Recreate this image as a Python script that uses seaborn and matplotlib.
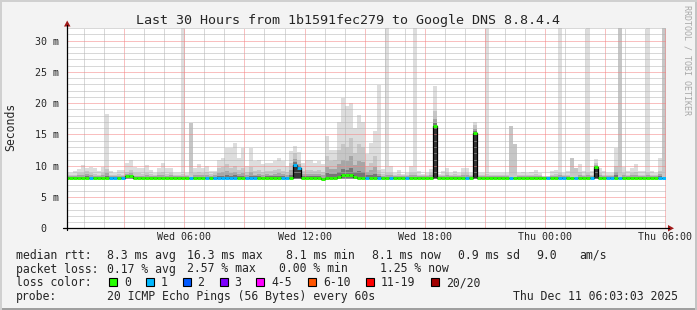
import numpy as np
import pandas as pd
import matplotlib
matplotlib.use("Agg")
import matplotlib.pyplot as plt
from matplotlib.patches import Rectangle, Polygon
from matplotlib.lines import Line2D
from matplotlib.ticker import FixedLocator, MultipleLocator
import seaborn as sns

# ---------------- data ----------------
title = "Last 30 Hours from 1b1591fec279 to Google DNS 8.8.4.4"
bin_start_hour = 0.03   # left edge of first 12-min RRD step, hours after Wed 00:00
bin_step_hour = 0.2     # 12 minutes
smoke_floor_ms = 7.95

# upper edge of light smoke (ms)
smoke_hi = [
    8.9, 8.9, 9.2, 9.5, 10.1, 9.7, 9.8, 9.6, 9.2, 9.8,
    18.3, 9.2, 8.9, 9.3, 9.3, 10.4, 11.0, 9.8, 9.7, 9.7,
    10.1, 9.4, 8.9, 9.7, 10.5, 9.7, 9.7, 8.9, 8.9, 32.0,
    8.9, 16.9, 9.7, 10.3, 9.7, 10.0, 9.2, 9.2, 11.0, 11.3,
    12.9, 12.9, 13.7, 11.3, 12.9, 10.0, 12.9, 10.8, 11.0, 10.3,
    10.5, 10.5, 10.8, 11.3, 10.8, 10.0, 12.4, 13.2, 12.2, 10.5,
    10.9, 10.9, 10.5, 10.8, 10.3, 14.8, 12.5, 12.5, 17.0, 20.8,
    19.5, 20.0, 16.1, 18.1, 17.0, 11.9, 13.6, 15.5, 22.9, 9.5,
    32.0, 10.0, 8.8, 9.4, 8.7, 8.9, 10.0, 32.0, 9.2, 8.7,
    8.9, 9.5, 22.7, 8.7, 9.2, 9.7, 8.9, 9.2, 8.9, 9.7,
    9.7, 8.9, 17.0, 8.9, 8.9, 32.0, 8.9, 8.8, 8.9, 8.8,
    8.9, 16.3, 13.5, 8.9, 9.0, 8.9, 9.0, 9.3, 8.9, 8.4,
    8.4, 9.1, 9.3, 32.0, 8.9, 9.2, 11.3, 9.6, 10.3, 9.1,
    32.0, 9.2, 11.1, 9.6, 9.2, 8.9, 8.9, 12.9, 32.0, 9.8,
    9.2, 9.6, 10.3, 9.1, 9.2, 32.0, 9.2, 8.9, 11.3, 32.0,
]

# upper edge of the denser (medium grey) smoke (ms)
smoke_mid = [
    8.5, 8.5, 8.6, 8.8, 8.9, 9.2, 8.9, 8.7, 8.6, 8.8,
    9.5, 8.6, 8.5, 8.7, 8.6, 9.0, 9.3, 8.8, 8.8, 8.7,
    8.9, 8.7, 8.5, 8.8, 9.0, 8.7, 8.8, 8.5, 8.5, 8.7,
    8.5, 16.9, 8.9, 9.0, 8.8, 9.0, 8.7, 8.8, 9.6, 9.8,
    10.3, 9.6, 10.0, 9.3, 9.6, 9.0, 9.8, 9.1, 9.4, 9.0,
    9.2, 9.1, 9.3, 9.5, 9.2, 9.0, 10.5, 12.0, 11.0, 9.2,
    9.4, 9.3, 9.2, 9.4, 9.0, 11.5, 10.8, 11.0, 12.5, 13.5,
    13.0, 14.5, 12.0, 13.5, 13.0, 10.0, 10.5, 11.5, 9.3, 8.7,
    8.9, 8.9, 8.5, 8.7, 8.5, 8.6, 8.9, 8.8, 8.6, 8.5,
    8.6, 8.8, 18.7, 8.5, 8.6, 8.8, 8.6, 8.7, 8.5, 8.8,
    8.8, 8.6, 16.5, 8.5, 8.5, 8.7, 8.5, 8.5, 8.6, 8.5,
    8.6, 16.3, 13.5, 8.5, 8.6, 8.5, 8.6, 8.7, 8.5, 8.3,
    8.3, 8.6, 8.7, 8.8, 8.5, 8.6, 11.3, 9.6, 9.0, 8.6,
    8.8, 8.6, 10.5, 8.8, 8.6, 8.5, 8.5, 10.0, 32.0, 8.9,
    8.6, 8.8, 9.0, 8.6, 8.6, 8.8, 8.6, 8.5, 9.2, 32.0,
]

# median round-trip time per step (ms)
median_ms = [
    8.1, 8.1, 8.1, 8.1, 8.1, 8.1, 8.1, 8.1, 8.1, 8.1,
    8.1, 8.1, 8.1, 8.1, 8.1, 8.3, 8.3, 8.0, 8.0, 8.1,
    8.1, 8.1, 8.1, 8.1, 8.1, 8.1, 8.1, 8.1, 8.1, 8.1,
    8.1, 8.1, 8.1, 8.1, 8.1, 8.1, 8.1, 8.1, 8.1, 8.1,
    8.1, 8.1, 8.1, 8.1, 8.1, 8.1, 8.1, 8.1, 8.1, 8.1,
    8.1, 8.1, 8.1, 8.1, 8.1, 8.1, 8.1, 10.2, 9.7, 8.1,
    8.1, 8.1, 8.1, 8.1, 7.9, 8.1, 8.1, 8.1, 8.2, 8.5,
    8.5, 8.5, 8.2, 8.1, 8.1, 8.1, 8.0, 8.0, 8.1, 8.1,
    8.1, 8.1, 8.1, 8.1, 8.1, 8.1, 8.1, 8.1, 8.1, 8.1,
    8.1, 8.1, 16.3, 8.1, 8.1, 8.1, 8.1, 8.1, 8.1, 8.1,
    8.1, 8.1, 15.3, 8.1, 8.1, 8.1, 8.1, 8.1, 8.1, 8.1,
    8.1, 8.1, 8.1, 8.1, 8.1, 8.1, 8.1, 8.1, 8.1, 8.1,
    8.1, 8.1, 8.1, 8.1, 8.1, 8.1, 8.1, 8.1, 8.1, 8.1,
    8.1, 8.1, 9.8, 8.1, 8.1, 8.1, 8.1, 8.1, 8.1, 8.1,
    8.1, 8.1, 8.1, 8.1, 8.1, 8.1, 8.1, 8.1, 8.1, 8.1,
]

# lost pings per step (of 20)
loss_count = [
    0, 0, 0, 0, 0, 0, 1, 0, 0, 0,
    0, 1, 1, 0, 1, 0, 0, 0, 0, 0,
    0, 0, 0, 0, 0, 0, 0, 0, 0, 0,
    0, 1, 0, 0, 0, 1, 0, 1, 1, 1,
    1, 1, 1, 0, 0, 1, 1, 1, 0, 0,
    0, 0, 0, 0, 1, 1, 0, 1, 1, 0,
    0, 0, 0, 0, 0, 0, 0, 0, 0, 0,
    0, 0, 0, 0, 0, 1, 0, 0, 1, 0,
    0, 1, 0, 0, 0, 1, 0, 0, 0, 0,
    0, 0, 0, 0, 0, 0, 0, 0, 0, 0,
    1, 0, 0, 0, 0, 0, 0, 0, 0, 0,
    0, 1, 0, 0, 0, 0, 0, 0, 0, 0,
    1, 0, 0, 1, 1, 0, 0, 1, 0, 0,
    0, 1, 0, 0, 0, 1, 1, 0, 1, 0,
    0, 0, 0, 0, 0, 0, 0, 0, 1, 1,
]

x_tick_hours = [6, 12, 18, 24, 30]
x_tick_labels = ["Wed 06:00", "Wed 12:00", "Wed 18:00", "Thu 00:00", "Thu 06:00"]
y_tick_values = [0, 5, 10, 15, 20, 25, 30]
y_tick_labels = ["0  ", "5 m", "10 m", "15 m", "20 m", "25 m", "30 m"]

loss_labels = ["0", "1", "2", "3", "4-5", "6-10", "11-19", "20/20"]
loss_colors = ["#26ff00", "#00b8ff", "#0059ff", "#7e00ff", "#ff00ff", "#ff5500", "#ff0000", "#a10000"]

stats_rtt = ["8.3 ms avg", "16.3 ms max", "8.1 ms min", "8.1 ms now", "0.9 ms sd", "9.0", "am/s"]
stats_loss = ["0.17 % avg", "2.57 % max", "0.00 % min", "1.25 % now"]
probe_text = "20 ICMP Echo Pings (56 Bytes) every 60s"
stamp_text = "Thu Dec 11 06:03:03 2025"

# ---------------- figure ----------------
W, H = 697, 310
sns.set_style("white")
plt.rcParams["font.family"] = ["DejaVu Sans Mono"]
MONO = "DejaVu Sans Mono"

fig = plt.figure(figsize=(W / 100, H / 100), dpi=100)
fig.patch.set_facecolor("#f3f3f3")


def fx(x):
    return x / W


def fy(y):
    return 1 - y / H


ax = fig.add_axes([fx(67), fy(228.3), 599 / W, 200.3 / H])
ax.set_facecolor("white")
ax.set_xlim(0.14, 30.045)
ax.set_ylim(0, 32.03)

n = len(median_ms)
df = pd.DataFrame({
    "left": bin_start_hour + bin_step_hour * np.arange(n),
    "hi": smoke_hi,
    "mid": smoke_mid,
    "median": median_ms,
    "loss": loss_count,
})
df["center"] = df["left"] + bin_step_hour / 2
df["right"] = df["left"] + bin_step_hour
# inner smoke layers only where the medium smoke is below the light smoke top
spread = (df["mid"] - df["median"]).clip(lower=0).where(df["mid"] < df["hi"], 0.0)
df["inner"] = df["median"] + 0.5 * spread
df["core"] = df["median"] + 0.2 * spread

for col, color in [("hi", "#dddddd"), ("mid", "#c6c6c6"), ("inner", "#a6a6a6"), ("core", "#767676")]:
    ax.bar(df["center"], df[col] - smoke_floor_ms, bottom=smoke_floor_ms,
           width=bin_step_hour, color=color, linewidth=0, zorder=1)

jump = df[df["median"] > 9.5]
ax.bar(jump["center"], jump["median"] - smoke_floor_ms, bottom=smoke_floor_ms,
       width=bin_step_hour, color="#363636", linewidth=0, zorder=1.2)

# black step outline of the median
step_x = list(df["left"]) + [df["right"].iloc[-1]]
step_y = list(df["median"]) + [df["median"].iloc[-1]]
sns.lineplot(x=step_x, y=step_y, drawstyle="steps-post", color="black",
             linewidth=0.9, estimator=None, sort=False, ax=ax, zorder=2)

# median coloured by loss
seg_colors = [loss_colors[min(int(l), 7)] for l in df["loss"]]
ax.hlines(df["median"], df["left"], df["right"], colors=seg_colors,
          linewidth=2.1, zorder=3)

# grid
ax.xaxis.set_major_locator(MultipleLocator(3))
ax.xaxis.set_minor_locator(MultipleLocator(1))
ax.yaxis.set_major_locator(FixedLocator(y_tick_values))
ax.yaxis.set_minor_locator(MultipleLocator(1))
ax.set_axisbelow("line")
ax.grid(which="major", color=(0.96, 0.5, 0.5, 0.8), linestyle=(0, (1, 1)), linewidth=0.72)
ax.grid(which="minor", color=(0.7, 0.7, 0.7, 0.8), linestyle=(0, (1, 1)), linewidth=0.72)

major_x = [3 * i for i in range(1, 11)]
label_map = dict(zip(x_tick_hours, x_tick_labels))
ax.set_xticks(major_x)
ax.set_xticklabels([label_map.get(h, "") for h in major_x], fontsize=7.2, family=MONO)
ax.set_yticks(y_tick_values)
ax.set_yticklabels(y_tick_labels, fontsize=7.2, family=MONO)
ax.tick_params(axis="both", which="both", length=0)
ax.tick_params(axis="x", pad=3.0)
ax.tick_params(axis="y", pad=5.8)
ax.set_xlabel("")
ax.set_ylabel("")
for s in ax.spines.values():
    s.set_visible(False)

# axis lines and arrows
fig.add_artist(Line2D([fx(67), fx(67)], [fy(230), fy(25)], color="black", linewidth=0.9))
fig.add_artist(Line2D([fx(63), fx(669)], [fy(228.3), fy(228.3)], color="black", linewidth=0.9))
fig.add_artist(Polygon([(fx(64), fy(26.5)), (fx(70.5), fy(26.5)), (fx(67.2), fy(20.5))],
                       closed=True, color="#a01818", linewidth=0))
fig.add_artist(Polygon([(fx(668), fy(225)), (fx(668), fy(231.5)), (fx(674), fy(228.3))],
                       closed=True, color="#a01818", linewidth=0))

# titles / labels
fig.text(fx(348), fy(24), title, ha="center", va="baseline", fontsize=9.6, family=MONO)
fig.text(fx(11), fy(127), "Seconds", rotation=90, ha="center", va="center", fontsize=8.3, family=MONO)
fig.text(fx(686.5), fy(60), "RRDTOOL / TOBI OETIKER", rotation=270, ha="center", va="center",
         fontsize=6.0, family=MONO, color="#a8a8a8")

# legend rows
FS = 8.3
rows_y = [259, 272.5, 286.2, 299.8]
fig.text(fx(16), fy(rows_y[0]), "median rtt:", fontsize=FS, family=MONO, va="baseline")
for txt, xp in zip(stats_rtt, [107, 187, 286, 372, 458, 536.5, 579]):
    fig.text(fx(xp), fy(rows_y[0]), txt, fontsize=FS, family=MONO, va="baseline")
fig.text(fx(16), fy(rows_y[1]), "packet loss:", fontsize=FS, family=MONO, va="baseline")
for txt, xp in zip(stats_loss, [107, 187, 279, 380]):
    fig.text(fx(xp), fy(rows_y[1]), txt, fontsize=FS, family=MONO, va="baseline")
fig.text(fx(16), fy(rows_y[2]), "loss color:", fontsize=FS, family=MONO, va="baseline")
box_x = [108.5, 145.5, 182.5, 219.5, 256, 307.5, 365.5, 431]
lab_x = [124, 161, 197, 234, 271, 323, 381, 446]
for lab, col, bx, lx in zip(loss_labels, loss_colors, box_x, lab_x):
    fig.add_artist(Rectangle((fx(bx), fy(286)), 8 / W, 8 / H, facecolor=col,
                             edgecolor="black", linewidth=0.8))
    fig.text(fx(lx), fy(rows_y[2]), lab, fontsize=FS, family=MONO, va="baseline")
fig.text(fx(16), fy(rows_y[3]), "probe:", fontsize=FS, family=MONO, va="baseline")
fig.text(fx(107), fy(rows_y[3]), probe_text, fontsize=FS, family=MONO, va="baseline")
fig.text(fx(513), fy(rows_y[3]), stamp_text, fontsize=FS, family=MONO, va="baseline")

# image border
fig.add_artist(Rectangle((0, 0), 1, 2 / H, color="#9f9f9f", linewidth=0))
fig.add_artist(Rectangle((1 - 2 / W, 0), 2 / W, 1, color="#c4c4c4", linewidth=0))
fig.add_artist(Rectangle((0, 1 - 2 / H), 1, 2 / H, color="#d0d0d0", linewidth=0))
fig.add_artist(Rectangle((0, 0), 2 / W, 1, color="#d0d0d0", linewidth=0))

fig.savefig("out.png", dpi=100, facecolor=fig.get_facecolor())
